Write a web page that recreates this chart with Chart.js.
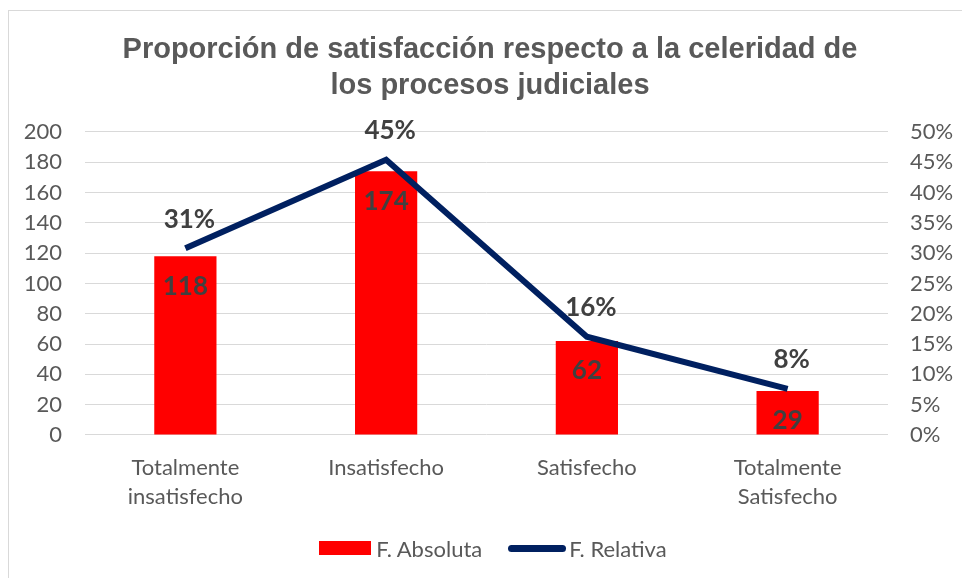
<!DOCTYPE html>
<html>
<head>
<meta charset="utf-8">
<script src="https://cdn.jsdelivr.net/npm/chart.js@4.4.1/dist/chart.umd.min.js"></script>
<style>
    html, body { margin: 0; padding: 0; background: #ffffff; }
    #wrap { position: relative; width: 962px; height: 578px; overflow: hidden; }
    #frame {
        position: absolute; left: 8px; top: 10px; width: 1000px; height: 700px;
        border: 1px solid #d9d9d9; pointer-events: none;
    }
    #chart { position: absolute; left: 0; top: 0; }
    #legend {
        position: absolute; left: 24px; top: 536px; width: 938px; height: 24px;
        display: flex; justify-content: center; align-items: center;
        font-family: 'Lato', 'Open Sans', sans-serif; font-size: 22px; color: #595959;
    }
    .item { display: flex; align-items: center; margin: 0 13px; }
    .swatch-bar { width: 52px; height: 14px; background: #FF0000; margin-right: 5px; }
    .swatch-line { width: 58px; height: 7px; border-radius: 4px; background: #002060; margin-right: 3px; }
</style>
</head>
<body>
<div id="wrap">
    <canvas id="chart" width="962" height="578"></canvas>
    <div id="frame"></div>
    <div id="legend">
        <div class="item"><span class="swatch-bar"></span>F. Absoluta</div>
        <div class="item"><span class="swatch-line"></span>F. Relativa</div>
    </div>
</div>
<script>
// --- data ---
const categories = [['Totalmente', 'insatisfecho'], 'Insatisfecho', 'Satisfecho', ['Totalmente', 'Satisfecho']];
const absoluta = [118, 174, 62, 29];
const relativa = [30.8, 45.4, 16.2, 7.6];
const relativaLabels = ['31%', '45%', '16%', '8%'];

const TICK_FONT = { family: "'Lato', 'Open Sans', sans-serif", size: 22 };
const LABEL_COLOR = '#404040';

// draws values on bars (inside end) and above line points
const valueLabels = {
    id: 'valueLabels',
    afterDatasetsDraw(chart) {
        const ctx = chart.ctx;
        ctx.save();
        ctx.font = "bold 26px 'Lato', 'Open Sans', sans-serif";
        ctx.fillStyle = LABEL_COLOR;
        ctx.textAlign = 'center';

        const bars = chart.getDatasetMeta(1).data;
        ctx.textBaseline = 'top';
        bars.forEach((bar, i) => {
            ctx.fillText(String(absoluta[i]), bar.x, bar.y + 17);
        });

        const pts = chart.getDatasetMeta(0).data;
        ctx.textBaseline = 'bottom';
        pts.forEach((pt, i) => {
            ctx.fillText(relativaLabels[i], pt.x + 4, pt.y - 16);
        });
        ctx.restore();
    }
};

new Chart(document.getElementById('chart'), {
    data: {
        labels: categories,
        datasets: [
            {
                type: 'line',
                label: 'F. Relativa',
                data: relativa,
                yAxisID: 'y1',
                borderColor: '#002060',
                borderWidth: 6,
                pointRadius: 0,
                tension: 0,
                order: 0
            },
            {
                type: 'bar',
                label: 'F. Absoluta',
                data: absoluta,
                yAxisID: 'y',
                backgroundColor: '#FF0000',
                barPercentage: 0.31,
                categoryPercentage: 1,
                order: 1
            }
        ]
    },
    plugins: [valueLabels],
    options: {
        responsive: false,
        animation: false,
        layout: { padding: { top: 0, bottom: 57, left: 18, right: 0 } },
        plugins: {
            legend: { display: false },
            tooltip: { enabled: false },
            title: {
                display: true,
                text: ['Proporción de satisfacción respecto a la celeridad de', 'los procesos judiciales'],
                color: '#595959',
                font: { family: "'Liberation Sans', Arial, sans-serif", size: 29, weight: 'bold', lineHeight: 1.24 },
                padding: { top: 32, bottom: 28 }
            }
        },
        scales: {
            x: {
                grid: { display: false },
                border: { display: false },
                ticks: {
                    color: '#595959',
                    font: { ...TICK_FONT, lineHeight: 1.32 },
                    padding: 10,
                    maxRotation: 0
                }
            },
            y: {
                position: 'left',
                min: 0,
                max: 200,
                grid: { color: '#d9d9d9', drawTicks: false },
                border: { display: false },
                ticks: { stepSize: 20, color: '#595959', font: TICK_FONT, padding: 23 },
                afterFit(scale) { scale.width = 67; }
            },
            y1: {
                position: 'right',
                min: 0,
                max: 50,
                grid: { display: false, drawTicks: false },
                border: { display: false },
                ticks: {
                    stepSize: 5,
                    color: '#595959',
                    font: TICK_FONT,
                    padding: 22,
                    callback: v => v + '%'
                },
                afterFit(scale) { scale.width = 74; }
            }
        }
    }
});
</script>
</body>
</html>
